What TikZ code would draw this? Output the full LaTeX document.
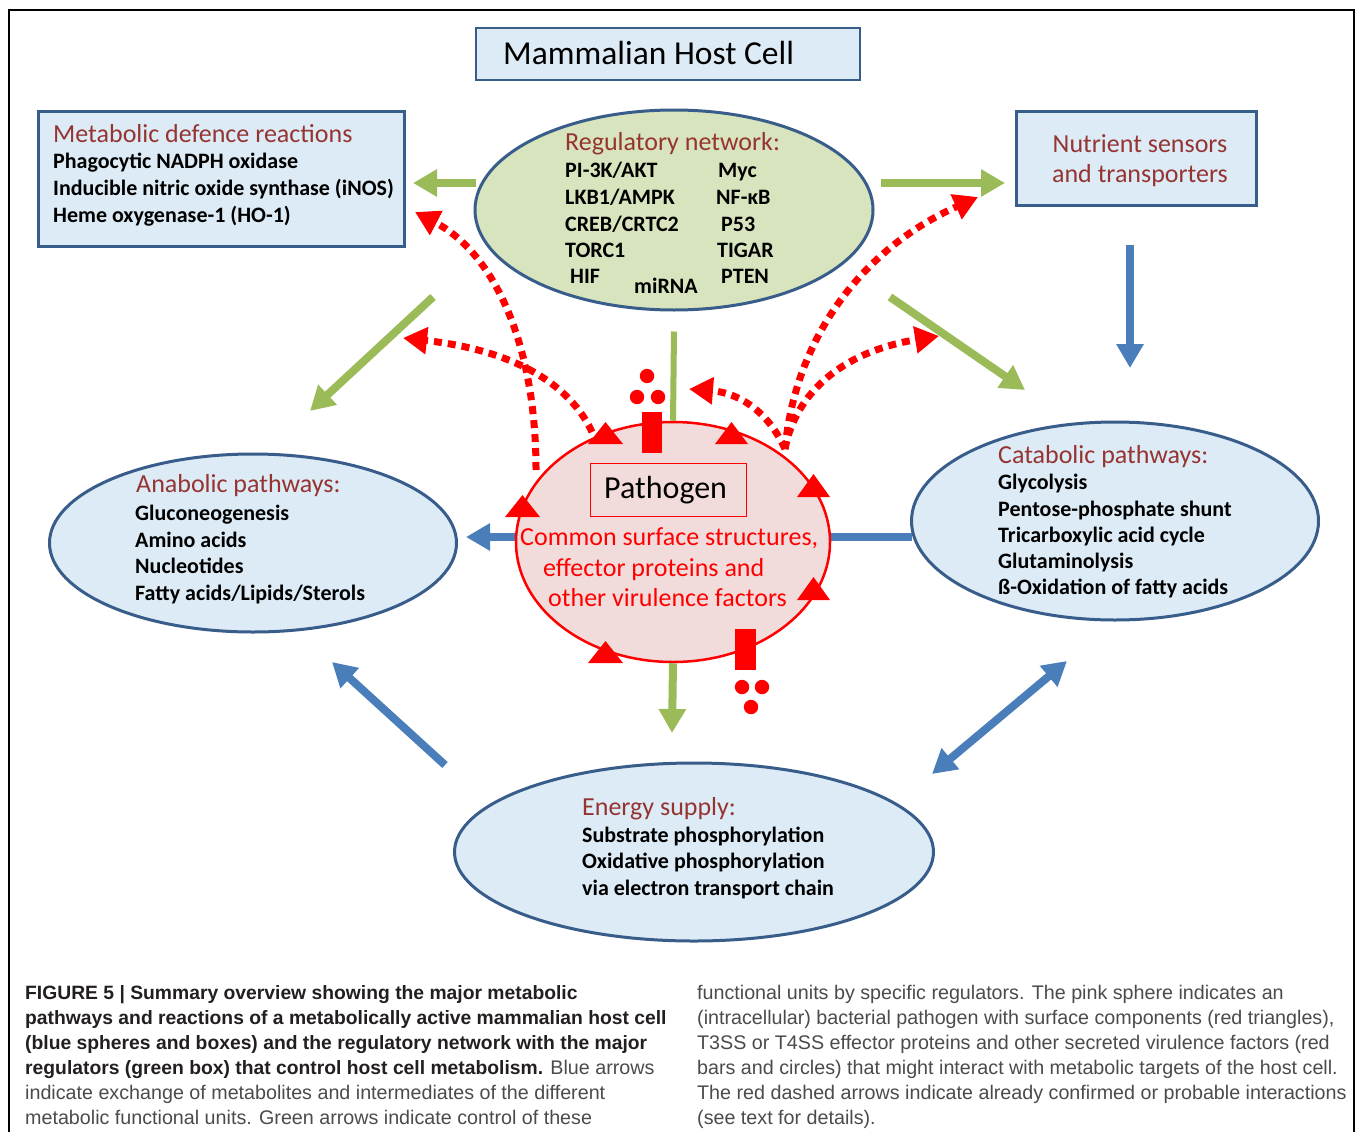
\documentclass[tikz,border=0pt]{standalone}
\usepackage{fontspec}
\setmainfont{Carlito}
\newfontfamily\capfont{Liberation Sans}
\usetikzlibrary{shapes.geometric,arrows.meta}
\definecolor{fillblue}{RGB}{220,235,245}
\definecolor{edgeblue}{RGB}{56,93,138}
\definecolor{regfill}{RGB}{215,228,189}
\definecolor{garr}{RGB}{155,187,89}
\definecolor{barr}{RGB}{74,126,187}
\definecolor{titred}{RGB}{150,52,50}
\definecolor{pinkfill}{RGB}{242,220,219}
\definecolor{pred}{RGB}{255,0,0}
\definecolor{capdark}{RGB}{35,31,32}
\definecolor{capgray}{RGB}{75,75,75}
\begin{document}
\begin{tikzpicture}[x=1pt,y=-1pt,
  box/.style={draw=edgeblue, line width=3pt, fill=fillblue, inner sep=0pt},
  oval/.style={ellipse, draw=edgeblue, line width=3pt, fill=fillblue, inner sep=0pt},
  lbl/.style={inner sep=0pt, anchor=base west},
  hd/.style={lbl, text=titred, font=\fontsize{26}{31}\selectfont},
  itm/.style={lbl, text=black, font=\bfseries\fontsize{22}{27}\selectfont},
  redtxt/.style={lbl, text=pred, font=\fontsize{26}{31}\selectfont},
  garrow/.style={draw=garr, line width=8pt, -{Triangle[length=24pt,width=26pt]}},
  gline/.style={draw=garr, line width=6pt},
  barrow/.style={draw=barr, line width=8pt, -{Triangle[length=24pt,width=26pt]}},
  rdash/.style={draw=pred, line width=7pt, dash pattern=on 8pt off 6pt, -{Triangle[length=24pt,width=26pt]}},
  capb/.style={lbl, text=capdark, font=\capfont\bfseries\fontsize{19.3}{25}\selectfont},
  capr/.style={lbl, text=capgray, font=\capfont\fontsize{19.7}{25}\selectfont}
]
\useasboundingbox (0,0) rectangle (1356,1132);
\fill[white] (0,0) rectangle (1356,1132);
% frame
\draw[line width=1.5pt] (9,1132) -- (9,10) -- (1354,10) -- (1354,1132);

% title
\node[draw=edgeblue, line width=1.5pt, fill=fillblue, inner sep=0pt, minimum width=384pt, minimum height=52pt] (title) at (668,54) {};
\node[lbl, font=\fontsize{33.5}{40}\selectfont] (titletxt) at (503,64) {Mammalian Host Cell};

% boxes and ovals
\node[box, minimum width=366pt, minimum height=135pt] (def) at (221,178.5) {};
\node[box, minimum width=240pt, minimum height=94pt] (nut) at (1136,158) {};
\node[oval, fill=regfill, minimum width=398pt, minimum height=200pt] (reg) at (674,210) {};
\node[oval, minimum width=407pt, minimum height=178pt] (ana) at (253,543) {};
\node[oval, minimum width=407pt, minimum height=198pt] (cat) at (1115,521) {};
\node[oval, minimum width=479pt, minimum height=178pt] (ene) at (694,852) {};

% arrow end coordinates
\coordinate (gdefS) at (476,183);   \coordinate (gdefE) at (413,183);
\coordinate (gnutS) at (881,183);   \coordinate (gnutE) at (1005,183);
\coordinate (ganaS) at (433,297);   \coordinate (ganaE) at (310,411);
\coordinate (gcatS) at (890,297);   \coordinate (gcatE) at (1025,390);
\coordinate (gdownE) at (672,733);
\coordinate (bnutS) at (1130,245);  \coordinate (bnutE) at (1130,368);
\coordinate (bcatS) at (912,537);   \coordinate (banaE) at (466,537);
\coordinate (beneS) at (445,765);   \coordinate (beneE) at (332,662);
\coordinate (bdA) at (932,774);     \coordinate (bdB) at (1067,661);

% green control arrows
\draw[garrow] (gdefS) -- (gdefE);
\draw[garrow] (gnutS) -- (gnutE);
\draw[garrow] (ganaS) -- (ganaE);
\draw[garrow] (gcatS) -- (gcatE);
% blue exchange arrows
\draw[barrow] (bnutS) -- (bnutE);
\draw[barrow] (bcatS) -- (banaE);
\draw[barrow] (beneS) -- (beneE);
\draw[draw=barr, line width=8pt, {Triangle[length=24pt,width=26pt]}-{Triangle[length=24pt,width=26pt]}] (bdA) -- (bdB);

% pathogen
\node[ellipse, draw=pred, line width=2.5pt, fill=pinkfill, inner sep=0pt, minimum width=314pt, minimum height=240pt] (path) at (673,542) {};
\draw[gline] (reg.south) ++(0,20) coordinate (gvS) -- (path.north);
\draw[garrow] (path.south) -- (gdownE);
\node[draw=pred, line width=1pt, inner sep=0pt, minimum width=156pt, minimum height=53pt] (pbox) at (668,489.5) {};
\node[lbl, font=\fontsize{32}{38}\selectfont] (ptxt) at (604,498) {Pathogen};
\node[redtxt] (r1) at (520,545) {Common surface structures,};
\node[redtxt] (r2) at (543,576) {effector proteins and};
\node[redtxt] (r3) at (548,606) {other virulence factors};

% surface triangles
\fill[pred] (588,444) -- (623,444) -- (605.5,422) -- cycle;
\fill[pred] (715,444) -- (748,444) -- (731.5,422) -- cycle;
\fill[pred] (797,497) -- (830,497) -- (813.5,474) -- cycle;
\fill[pred] (797,600) -- (830,600) -- (813.5,577) -- cycle;
\fill[pred] (505,517) -- (540,517) -- (522.5,495) -- cycle;
\fill[pred] (588,663) -- (623,663) -- (605.5,641) -- cycle;
% bars and circles
\fill[pred] (642,412) rectangle (662,453);
\fill[pred] (735,629) rectangle (756,670);
\fill[pred] (647,376) circle (7.2);
\fill[pred] (637,397) circle (7.2);
\fill[pred] (658,397) circle (7.2);
\fill[pred] (742,687) circle (7.2);
\fill[pred] (762,687) circle (7.2);
\fill[pred] (751,707) circle (7.2);

% red dashed interactions
\coordinate (rL1) at (536,470);  \coordinate (rT1) at (415,212);
\coordinate (rL2) at (592,432);  \coordinate (rT2) at (403,338);
\coordinate (rR) at (785,449);
\coordinate (rT3) at (689,389);
\coordinate (rT4) at (978,197);
\coordinate (rT5) at (939,336);
\draw[rdash] (rL1) .. controls (536,340) and (492,252) .. (rT1);
\draw[rdash] (rL2) .. controls (575,395) and (530,352) .. (rT2);
\draw[rdash] (rR) .. controls (770,415) and (742,393) .. (rT3);
\draw[rdash] (rR) .. controls (795,340) and (860,250) .. (rT4);
\draw[rdash] (rR) .. controls (795,395) and (840,352) .. (rT5);

% texts: defence
\node[hd] (dh) at (53,142) {Metabolic defence reactions};
\node[itm] (d1) at (53,168) {Phagocytic NADPH oxidase};
\node[itm] (d2) at (53,195) {Inducible nitric oxide synthase (iNOS)};
\node[itm] (d3) at (53,222) {Heme oxygenase-1 (HO-1)};
% regulatory network
\node[hd] (rh) at (565,150) {Regulatory network:};
\node[itm] (n1) at (565,177) {PI-3K/AKT};
\node[itm] (n2) at (565,204) {LKB1/AMPK};
\node[itm] (n3) at (565,231) {CREB/CRTC2};
\node[itm] (n4) at (565,257) {TORC1};
\node[itm] (n5) at (570,283) {HIF};
\node[itm] (n6) at (634,293) {miRNA};
\node[itm] (m1) at (718,177) {Myc};
\node[itm] (m2) at (716,204) {NF-κB};
\node[itm] (m3) at (721,231) {P53};
\node[itm] (m4) at (717,257) {TIGAR};
\node[itm] (m5) at (721,283) {PTEN};
% nutrient
\node[hd, anchor=base] (nu1) at (1140,152) {Nutrient sensors};
\node[hd, anchor=base] (nu2) at (1140,182) {and transporters};
% anabolic
\node[hd] (ah) at (136,492) {Anabolic pathways:};
\node[itm] (a1) at (135,520) {Gluconeogenesis};
\node[itm] (a2) at (135,547) {Amino acids};
\node[itm] (a3) at (135,573) {Nucleotides};
\node[itm] (a4) at (135,600) {Fatty acids/Lipids/Sterols};
% catabolic
\node[hd] (ch) at (998,463) {Catabolic pathways:};
\node[itm] (c1) at (998,489) {Glycolysis};
\node[itm] (c2) at (998,516) {Pentose-phosphate shunt};
\node[itm] (c3) at (998,542) {Tricarboxylic acid cycle};
\node[itm] (c4) at (998,568) {Glutaminolysis};
\node[itm] (c5) at (998,594) {ß-Oxidation of fatty acids};
% energy
\node[hd] (eh) at (582,815) {Energy supply:};
\node[itm] (e1) at (582,842) {Substrate phosphorylation};
\node[itm] (e2) at (582,868) {Oxidative phosphorylation};
\node[itm] (e3) at (582,895) {via electron transport chain};

% caption
\node[capb] (cl1) at (25,999) {FIGURE 5 | Summary overview showing the major metabolic};
\node[capb] (cl2) at (25,1024) {pathways and reactions of a metabolically active mammalian host cell};
\node[capb] (cl3) at (25,1049) {(blue spheres and boxes) and the regulatory network with the major};
\node[capr] (cl4) at (25,1074) {\textcolor{capdark}{\bfseries\fontsize{19.3}{25}\selectfont regulators (green box) that control host cell metabolism.} Blue arrows};
\node[capr] (cl5) at (25,1099) {indicate exchange of metabolites and intermediates of the different};
\node[capr] (cl6) at (25,1124) {metabolic functional units. Green arrows indicate control of these};
\node[capr] (cr1) at (697,999) {functional units by specific regulators. The pink sphere indicates an};
\node[capr] (cr2) at (697,1024) {(intracellular) bacterial pathogen with surface components (red triangles),};
\node[capr] (cr3) at (697,1049) {T3SS or T4SS effector proteins and other secreted virulence factors (red};
\node[capr] (cr4) at (697,1074) {bars and circles) that might interact with metabolic targets of the host cell.};
\node[capr] (cr5) at (697,1099) {The red dashed arrows indicate already confirmed or probable interactions};
\node[capr] (cr6) at (697,1124) {(see text for details).};
\end{tikzpicture}
\end{document}
